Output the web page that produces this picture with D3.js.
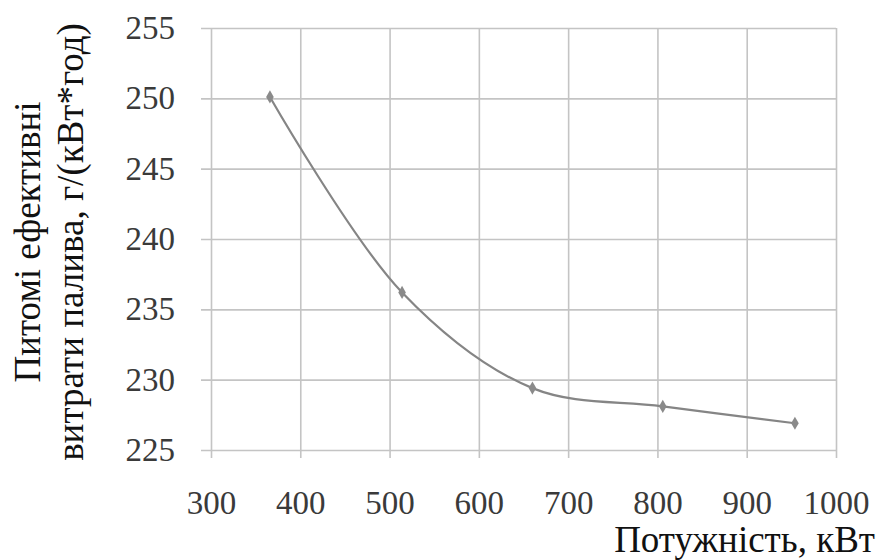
<!DOCTYPE html>
<html>
<head>
<meta charset="utf-8">
<script src="https://cdn.jsdelivr.net/npm/d3@7"></script>
</head>
<body style="margin:0">
<script>
// ---- data ----
const power = [366, 514, 660, 806, 954];
const fuel = [250.1, 236.2, 229.4, 228.1, 226.9];
const xTicks = [300, 400, 500, 600, 700, 800, 900, 1000];
const yTicks = [225, 230, 235, 240, 245, 250, 255];
const xTitle = "Потужність, кВт";
const yTitleLines = ["Питомі ефективні", "витрати палива, г/(кВт*год)"];

// ---- layout ----
const W = 880, H = 560;
const mL = 211, mR = 836, mT = 28, mB = 450;

function serif(sel) {
  return sel.attr("font-family", "Liberation Serif").style("font-family", '"Liberation Serif"');
}

const svg = d3.select("body").append("svg").attr("width", W).attr("height", H);

const x = d3.scaleLinear().domain([300, 1000]).range([mL, mR]);
const y = d3.scaleLinear().domain([225, 255]).range([mB, mT]);

const gridColor = "#c4c4c4";

// vertical gridlines + outer tick marks
const gx = svg.append("g").attr("transform", `translate(0,${mB + 8})`)
  .call(d3.axisBottom(x).tickValues(xTicks).tickSize(-(mB - mT + 8)).tickFormat(""));
gx.select(".domain").remove();
gx.selectAll(".tick line").attr("stroke", gridColor).attr("stroke-width", 1.6);

// horizontal gridlines + outer tick marks
const gy = svg.append("g").attr("transform", `translate(${mL - 10},0)`)
  .call(d3.axisLeft(y).tickValues(yTicks).tickSize(-(mR - mL + 10)).tickFormat(""));
gy.select(".domain").remove();
gy.selectAll(".tick line").attr("stroke", gridColor).attr("stroke-width", 1.6);

// tick labels
const xl = svg.append("g").attr("transform", `translate(0,${mB})`)
  .call(d3.axisBottom(x).tickValues(xTicks).tickSize(8).tickPadding(33).tickFormat(d3.format("d")));
xl.select(".domain").remove();
xl.selectAll(".tick line").remove();
serif(xl).attr("font-size", 33);
serif(xl.selectAll("text")).attr("font-size", 33).attr("fill", "#3a3a3a");

const yl = svg.append("g").attr("transform", `translate(${mL},0)`)
  .call(d3.axisLeft(y).tickValues(yTicks).tickSize(10).tickPadding(26).tickFormat(d3.format("d")));
yl.select(".domain").remove();
yl.selectAll(".tick line").remove();
serif(yl).attr("font-size", 33);
serif(yl.selectAll("text")).attr("font-size", 33).attr("fill", "#3a3a3a");

// data line
const pts = power.map((p, i) => [p, fuel[i]]);
const line = d3.line().x(d => x(d[0])).y(d => y(d[1])).curve(d3.curveCatmullRom.alpha(0.5));
svg.append("path").datum(pts).attr("d", line)
  .attr("fill", "none").attr("stroke", "#858585").attr("stroke-width", 2.2);

svg.append("g").selectAll("path").data(pts).join("path")
  .attr("d", d3.symbol().type(d3.symbolDiamond).size(50))
  .attr("transform", d => `translate(${x(d[0])},${y(d[1])})`)
  .attr("fill", "#8a8a8a");

// axis titles
serif(svg.append("text")).attr("x", 875).attr("y", 552).attr("text-anchor", "end")
  .attr("font-size", 37).attr("fill", "#111").text(xTitle);

const yt = serif(svg.append("text")).attr("transform", "translate(40,242) rotate(-90)")
  .attr("text-anchor", "middle").attr("font-size", 37).attr("fill", "#111");
yTitleLines.forEach((t, i) => {
  yt.append("tspan").attr("x", 0).attr("y", i * 43).text(t);
});
</script>
</body>
</html>
